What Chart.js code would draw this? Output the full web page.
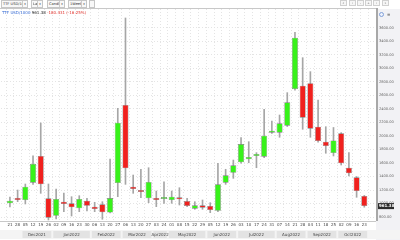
<!DOCTYPE html>
<html>
<head>
<meta charset="utf-8">
<script src="https://cdn.jsdelivr.net/npm/chart.js@4.4.0/dist/chart.umd.min.js"></script>
<style>
html, body { margin: 0; padding: 0; background: #fff; }
#wrap { position: relative; width: 400px; height: 240px; overflow: hidden; font-family: "DejaVu Sans", sans-serif; }
#wrap canvas { position: absolute; left: 0; top: 0; }
.sel { position: absolute; top: 0; height: 8px; border: 1px solid #c6c6c6; background: #f8f8f8; box-sizing: border-box; overflow: hidden;
       font-size: 3.6px; line-height: 6px; color: #333; padding-left: 1px; white-space: nowrap; }
.sel b { position: absolute; right: 0; top: 0; width: 4px; height: 6px; border-left: 1px solid #ccc; font-weight: normal; font-size: 3px; text-align: center; background: #f8f8f8; }
.nav { position: absolute; top: 0; width: 7px; height: 6px; border: 1px solid #d0d0d0; background: #f6f6f6; box-sizing: border-box;
       font-size: 3px; line-height: 4px; text-align: center; color: #666; }
#legend { position: absolute; left: 2px; top: 10px; font-size: 4px; line-height: 5px; white-space: nowrap; }
#icon { position: absolute; left: 379px; top: 12px; width: 5px; height: 5px; border: 1px solid #7f9fd8; border-radius: 50%; box-sizing: border-box; background: #eef2fb; }
#menu { position: absolute; left: 387px; top: 12px; font-size: 4px; color: #777; }
</style>
</head>
<body>
<div id="wrap">
  <canvas id="chart" width="400" height="240"></canvas>
  <div class="sel" style="left:1px;width:27px">TTF USD/100<b>▾</b></div>
  <div class="sel" style="left:31px;width:12px">Last<b>▾</b></div>
  <div class="sel" style="left:47px;width:18px">Candle<b>▾</b></div>
  <div class="sel" style="left:68px;width:19px">1Week<b>▾</b></div>
  <div class="sel" style="left:89px;width:6px"></div>
  <div class="nav" style="left:340px">&laquo;</div>
  <div class="nav" style="left:349px">&lsaquo;</div>
  <div class="nav" style="left:357px">-</div>
  <div class="nav" style="left:365px">+</div>
  <div class="nav" style="left:373px">&rsaquo;</div>
  <div class="nav" style="left:382px">&raquo;</div>
  <div id="legend"><span style="color:#3b6fd6">TTF USD/1000</span> <span style="color:#222">961.38</span> <span style="color:#e0302a">-180.431 (-16.25%)</span></div>
  <div id="icon"></div>
  <div id="menu">≡</div>
</div>
<script>
// weekly candles, week start (Sunday)
var weekDates = ['2021-11-21', '2021-11-28', '2021-12-05', '2021-12-12', '2021-12-19', '2021-12-26',
    '2022-01-02', '2022-01-09', '2022-01-16', '2022-01-23', '2022-01-30',
    '2022-02-06', '2022-02-13', '2022-02-20', '2022-02-27',
    '2022-03-06', '2022-03-13', '2022-03-20', '2022-03-27',
    '2022-04-03', '2022-04-24',
    '2022-05-01', '2022-05-08', '2022-05-15', '2022-05-22', '2022-05-29',
    '2022-06-05', '2022-06-12', '2022-06-19', '2022-06-26',
    '2022-07-03', '2022-07-10', '2022-07-17', '2022-07-24', '2022-07-31',
    '2022-08-07', '2022-08-14', '2022-08-21', '2022-08-28',
    '2022-09-04', '2022-09-11', '2022-09-18', '2022-09-25',
    '2022-10-02', '2022-10-09', '2022-10-16', '2022-10-23'];
var opens = [1003, 1071, 1052, 1308, 1704, 1077, 819, 1027, 1003, 929, 1041, 953, 988, 867, 1304, 2459, 1249, 1200, 1077, 1077, 1067, 1052, 1077, 1037,
    923, 973, 963, 893, 1308, 1456, 1610, 1655, 1704, 1693, 2049, 2049, 2153, 2696, 2745, 2781, 2138, 1916, 1748, 2040, 1530, 1388, 1111];
var highs = [1096, 1200, 1289, 1708, 2193, 1289, 1215, 1156, 1101, 1116, 1077, 1018, 1027, 1659, 2410, 3748, 1422, 1507, 1530, 1185, 1323, 1185, 1234, 1077,
    1027, 1052, 1012, 1596, 1507, 1644, 1975, 1916, 1753, 2396, 2222, 2311, 2642, 3536, 3160, 2953, 2533, 2138, 2126, 2050, 1756, 1400, 1120];
var lows = [948, 1027, 993, 1284, 1151, 756, 770, 879, 815, 879, 889, 879, 766, 859, 1101, 1284, 1151, 1086, 1012, 953, 1003, 1003, 978, 953,
    914, 914, 864, 879, 1284, 1373, 1596, 1604, 1530, 1680, 2040, 1981, 2140, 2680, 2099, 1981, 1910, 1744, 1704, 1570, 1407, 1092, 945];
var closes = [1041, 1052, 1249, 1585, 1284, 790, 1067, 993, 944, 1067, 967, 919, 870, 1081, 2197, 1521, 1215, 1170, 1319, 1052, 1092, 1101, 1062, 963,
    973, 938, 904, 1284, 1418, 1566, 1881, 1689, 1719, 2004, 2074, 2188, 2499, 3456, 2271, 2108, 1926, 1852, 1933, 1596, 1447, 1185, 961.38];
var yTicks = [800, 1000, 1200, 1400, 1600, 1800, 2000, 2200, 2400, 2600, 2800, 3000, 3200, 3400, 3600];
var monthNames = ['Jan', 'Feb', 'Mar', 'Apr', 'May', 'Jun', 'Jul', 'Aug', 'Sep', 'Oct', 'Nov', 'Dec'];
var lastPrice = 961.38;

var idx = weekDates.map(function (d, i) { return i; });
var dayLabels = weekDates.map(function (d) { return d.slice(8, 10); });
var up = idx.map(function (i) { return closes[i] >= opens[i]; });

// group the weeks by month for the bottom row (first, partial month has no label)
var monthGroups = [];
weekDates.forEach(function (d, i) {
    var key = monthNames[parseInt(d.slice(5, 7), 10) - 1] + d.slice(0, 4);
    var g = monthGroups[monthGroups.length - 1];
    if (g && g.name === key) g.last = i;
    else monthGroups.push({ name: key, first: i, last: i });
});
monthGroups.shift();

var deco = {
    id: 'deco',
    beforeDraw: function (chart) {
        var ctx = chart.ctx, a = chart.chartArea, x = chart.scales.x;
        ctx.save();
        ctx.fillStyle = '#f2f2f5';
        ctx.fillRect(a.right, a.top, chart.width - a.right, chart.height - a.top);
        ctx.fillStyle = '#f4f4f4';
        ctx.fillRect(0, a.bottom + 9, chart.width, 9);
        ctx.font = '4px "DejaVu Sans"';
        ctx.textAlign = 'center';
        ctx.textBaseline = 'middle';
        monthGroups.forEach(function (g) {
            var x0 = x.getPixelForValue(g.first - 0.5) + 1;
            var x1 = x.getPixelForValue(g.last + 0.5) - 1;
            ctx.fillStyle = '#e3e3e3';
            ctx.fillRect(x0, a.bottom + 10, x1 - x0, 7);
            ctx.fillStyle = '#444';
            ctx.fillText(g.name, (x0 + x1) / 2, a.bottom + 13.5);
        });
        ctx.restore();
    },
    afterDraw: function (chart) {
        var ctx = chart.ctx, a = chart.chartArea, y = chart.scales.y;
        ctx.save();
        ctx.fillStyle = '#c8c8c8';
        ctx.fillRect(0, a.top - 1, a.right, 1);
        ctx.fillRect(0, a.bottom, a.right, 1);
        ctx.fillStyle = '#a8a8a8';
        ctx.fillRect(a.right, a.top - 1, 2, a.bottom - a.top + 1);
        var py = y.getPixelForValue(lastPrice);
        ctx.fillStyle = '#2b2b2b';
        ctx.fillRect(a.right + 2, py - 3, 16, 6);
        ctx.fillStyle = '#fff';
        ctx.font = 'bold 4px "DejaVu Sans"';
        ctx.textBaseline = 'middle';
        ctx.fillText(lastPrice.toFixed(2), a.right + 3, py);
        ctx.restore();
    }
};

new Chart(document.getElementById('chart'), {
    type: 'bar',
    data: {
        datasets: [
            {
                label: 'body',
                data: idx.map(function (i) { return { x: i, y: [opens[i], closes[i]] }; }),
                backgroundColor: up.map(function (u) { return u ? '#38f21a' : '#f0211e'; }),
                borderColor: '#7c7c7c',
                borderWidth: 0.6,
                borderSkipped: false,
                minBarLength: 2,
                barPercentage: 0.78,
                categoryPercentage: 1,
                grouped: false,
                order: 1
            },
            {
                label: 'wick',
                data: idx.map(function (i) { return { x: i, y: [lows[i], highs[i]] }; }),
                backgroundColor: '#a6a6a6',
                barThickness: 1,
                grouped: false,
                order: 2
            }
        ]
    },
    options: {
        responsive: false,
        animation: false,
        layout: { padding: { left: 1, top: 9, right: 0, bottom: 0 } },
        plugins: { legend: { display: false }, tooltip: { enabled: false } },
        scales: {
            x: {
                type: 'linear',
                min: -0.64,
                max: 47.0,
                afterBuildTicks: function (scale) { scale.ticks = idx.map(function (v) { return { value: v }; }); },
                afterFit: function (scale) { scale.height = 19; },
                ticks: {
                    autoSkip: false, maxRotation: 0, padding: 2,
                    font: { size: 4, family: 'DejaVu Sans' }, color: '#444',
                    callback: function (v) { return dayLabels[v]; }
                },
                grid: { color: '#e4e4e4', drawTicks: false },
                border: { display: false, dash: [1, 2] }
            },
            y: {
                position: 'right',
                min: 741,
                max: 3881,
                afterBuildTicks: function (scale) { scale.ticks = yTicks.map(function (v) { return { value: v }; }); },
                afterFit: function (scale) { scale.width = 24; },
                ticks: {
                    padding: 3,
                    font: { size: 3.6, family: 'DejaVu Sans' }, color: '#666',
                    callback: function (v) { return v.toFixed(2); }
                },
                grid: { color: '#e4e4e4', drawTicks: false },
                border: { display: false, dash: [1, 2] }
            }
        }
    },
    plugins: [deco]
});
</script>
</body>
</html>
